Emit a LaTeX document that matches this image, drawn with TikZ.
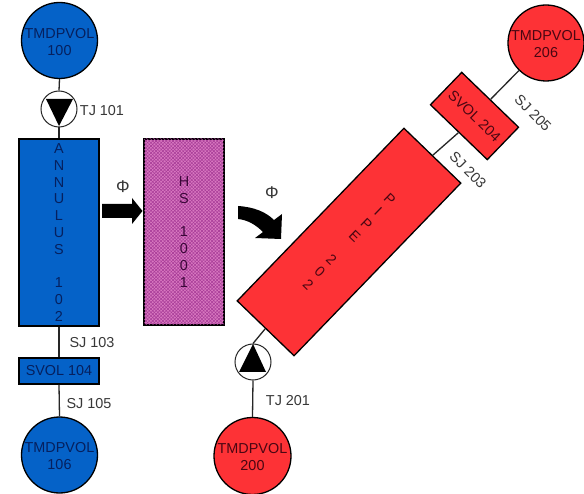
\documentclass[tikz,border=0pt]{standalone}
\usepackage{fontspec}
\setmainfont{Liberation Sans}
\usetikzlibrary{patterns.meta}
\definecolor{myblue}{HTML}{0562C8}
\definecolor{myred}{HTML}{FD3236}
\definecolor{mymag}{HTML}{D878C0}
\definecolor{mymagd}{HTML}{A83C98}
\definecolor{txtblue}{HTML}{06205E}
\definecolor{txtred}{HTML}{4A0612}
\definecolor{txtmag}{HTML}{3A0638}
\definecolor{lab}{HTML}{383838}
\tikzset{
  basefont/.style={font=\fontsize{14.4}{16.8}\selectfont},
  outline/.style={draw=black,line width=1.3pt,inner sep=0pt,basefont,align=center},
  bluebox/.style={outline,fill=myblue,text=txtblue},
  redbox/.style={outline,fill=myred,text=txtred},
  volcirc/.style={circle,minimum size=76pt},
  valve/.style={circle,draw=black!85,fill=white,line width=1pt,minimum size=36pt,inner sep=0pt},
  vtri/.style={fill=black,draw=none},
  conn/.style={draw=black!85,line width=1.3pt},
  lbl/.style={text=lab,basefont,inner sep=0pt},
  phi/.style={text=lab,font=\fontsize{17}{18}\selectfont,inner sep=0pt},
  blockarrow/.style={fill=black,draw=none}
}
\newcommand{\tvol}[1]{\rule{0pt}{12.5pt}\makebox[0pt]{TMDPVOL}\\#1}
\begin{document}
\begin{tikzpicture}[x=1pt,y=-1pt]
\useasboundingbox (0,0) rectangle (584,494);
\fill[white] (0,0) rectangle (584,494);
% volumes
\node[bluebox,volcirc] (t100) at (59.5,40.5) {\tvol{100}};
\node[valve] (v101) at (59,109) {};
\node[bluebox,minimum width=80pt,minimum height=187pt] (ann) at (59,232.5)
  {A\\N\\N\\U\\L\\U\\S\\\mbox{}\\1\\0\\2};
\node[bluebox,minimum width=80pt,minimum height=26pt] (s104) at (59,371) {SVOL 104};
\node[bluebox,volcirc] (t106) at (59.5,455) {\tvol{106}};
\node[outline,minimum width=80pt,minimum height=186pt,text=txtmag,
  preaction={fill=mymag},
  postaction={pattern={Lines[angle=-45,distance=2.4pt,line width=.55pt]},pattern color=mymagd},
  pattern={Lines[angle=45,distance=2.4pt,line width=.55pt]},pattern color=mymagd] (hs) at (184,232)
  {H\\S\\\mbox{}\\1\\0\\0\\1};
\node[redbox,minimum width=79pt,minimum height=240pt,rotate=-44] (pipe) at (349,242)
  {P\\I\\P\\E\\\mbox{}\\2\\0\\2};
\node[redbox,minimum width=79pt,minimum height=45pt,rotate=-44] (s204) at (474.5,116) {SVOL 204};
\node[redbox,volcirc] (t206) at (546,43) {\tvol{206}};
\node[valve] (v201) at (253,362) {};
\node[redbox,volcirc,minimum size=77pt] (t200) at (252.5,456) {\tvol{200}};
% connectors
\draw[conn] (t100.south) -- (v101.north);
\draw[conn] (v101.south) -- (ann.north);
\draw[conn] (ann.south) -- (s104.north);
\draw[conn] (s104.south) -- (t106.north);
\draw[conn] (pipe.south) -- (v201.north);
\draw[conn] (v201.south) -- (t200.north);
\draw[conn] (pipe.north) -- (s204.south);
\draw[conn] (s204.north) -- (t206);
% valve triangles
\fill[vtri] (46,99) -- (73,99) -- (59,126) -- cycle;
\fill[vtri] (253,344) -- (266,372) -- (239,372) -- cycle;
% heat flux arrows
\fill[blockarrow] (102,204) -- (132,204) -- (132,198) -- (142.5,211) -- (132,224) -- (132,218) -- (102,218) -- cycle;
\fill[blockarrow] (238,206) .. controls (254,207) and (266,212) .. (274,220)
  -- (282,214) -- (281,239) -- (255,238) -- (263,232)
  .. controls (256,225) and (248,220) .. (238,219) -- cycle;
% labels
\node[lbl] (l1) at (102,111) {TJ 101};
\node[lbl] (l2) at (92,343) {SJ 103};
\node[lbl] (l3) at (89,403.5) {SJ 105};
\node[lbl] (l4) at (288,401) {TJ 201};
\node[lbl,rotate=-45] (l5) at (533,113) {SJ 205};
\node[lbl,rotate=-45] (l6) at (468,170) {SJ 203};
\node[phi] (p1) at (123,187) {Φ};
\node[phi] (p2) at (272,193) {Φ};
\end{tikzpicture}
\end{document}
